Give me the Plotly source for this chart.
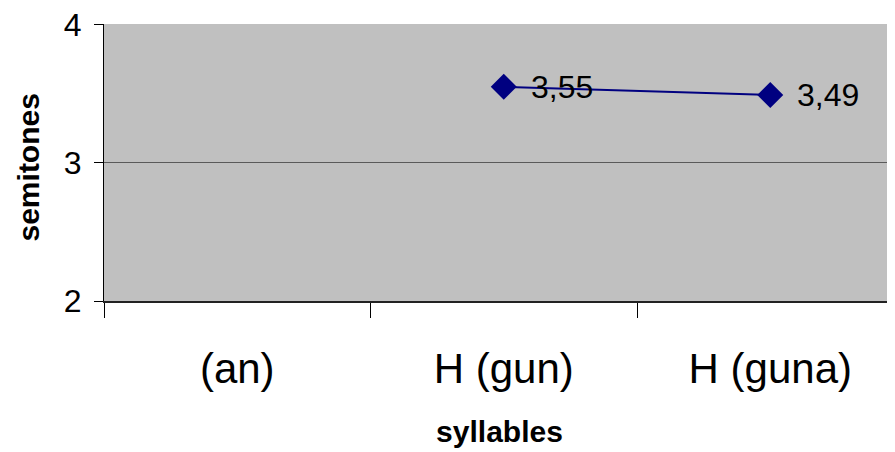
import plotly.graph_objects as go

categories = ["(an)", "H (gun)", "H (guna)"]
values = [None, 3.55, 3.49]
labels = ["" if v is None else f"{v:.2f}".replace(".", ",") for v in values]
y_ticks = [2, 3, 4]

fig = go.Figure()
fig.add_trace(go.Scatter(
    x=categories, y=values,
    mode="lines+markers",
    line=dict(color="#000080", width=2),
    marker=dict(symbol="diamond", size=20, color="#000080"),
    cliponaxis=False,
    showlegend=False,
))

for c, v, t in zip(categories, values, labels):
    if v is None:
        continue
    fig.add_annotation(
        x=c, y=v, text=t, showarrow=False,
        xanchor="left", yanchor="middle", xshift=25, yshift=0,
        font=dict(family="Liberation Sans, Arial", size=32, color="black"),
    )

# y-axis title
fig.add_annotation(
    xref="paper", yref="paper", x=0, y=0.5,
    text="<b>semitones</b>", textangle=-90, showarrow=False,
    xanchor="center", yanchor="middle", xshift=-76, yshift=-5,
    borderpad=0,
    font=dict(family="Liberation Sans, Arial", size=30, color="black"),
)

fig.update_layout(
    width=887, height=444,
    margin=dict(l=96, r=0, t=16, b=151),
    paper_bgcolor="white",
    plot_bgcolor="#C0C0C0",
    font=dict(family="Liberation Sans, Arial", color="black"),
)
fig.update_xaxes(
    type="category",
    categoryorder="array", categoryarray=categories,
    range=[-0.5, 2.468],
    tickson="boundaries",
    ticks="outside", ticklen=15, tickcolor="black", tickwidth=1,
    showline=True, linecolor="#222222", linewidth=2,
    showgrid=False,
    automargin=False,
    tickfont=dict(size=42),
    ticklabelstandoff=30,
    title=dict(text="<b>syllables</b>", font=dict(size=30), standoff=30),
)
fig.update_yaxes(
    range=[2, 4.004],
    tickvals=y_ticks,
    ticktext=[str(t) for t in y_ticks],
    ticks="outside", ticklen=9, tickcolor="black", tickwidth=1,
    showline=True, linecolor="black", linewidth=1,
    showgrid=True, gridcolor="#5a5a5a", gridwidth=1,
    zeroline=False,
    automargin=False,
    tickfont=dict(size=32),
    ticklabelstandoff=6,
    ticklabeloverflow="allow",
)

fig.write_html("out.html")
